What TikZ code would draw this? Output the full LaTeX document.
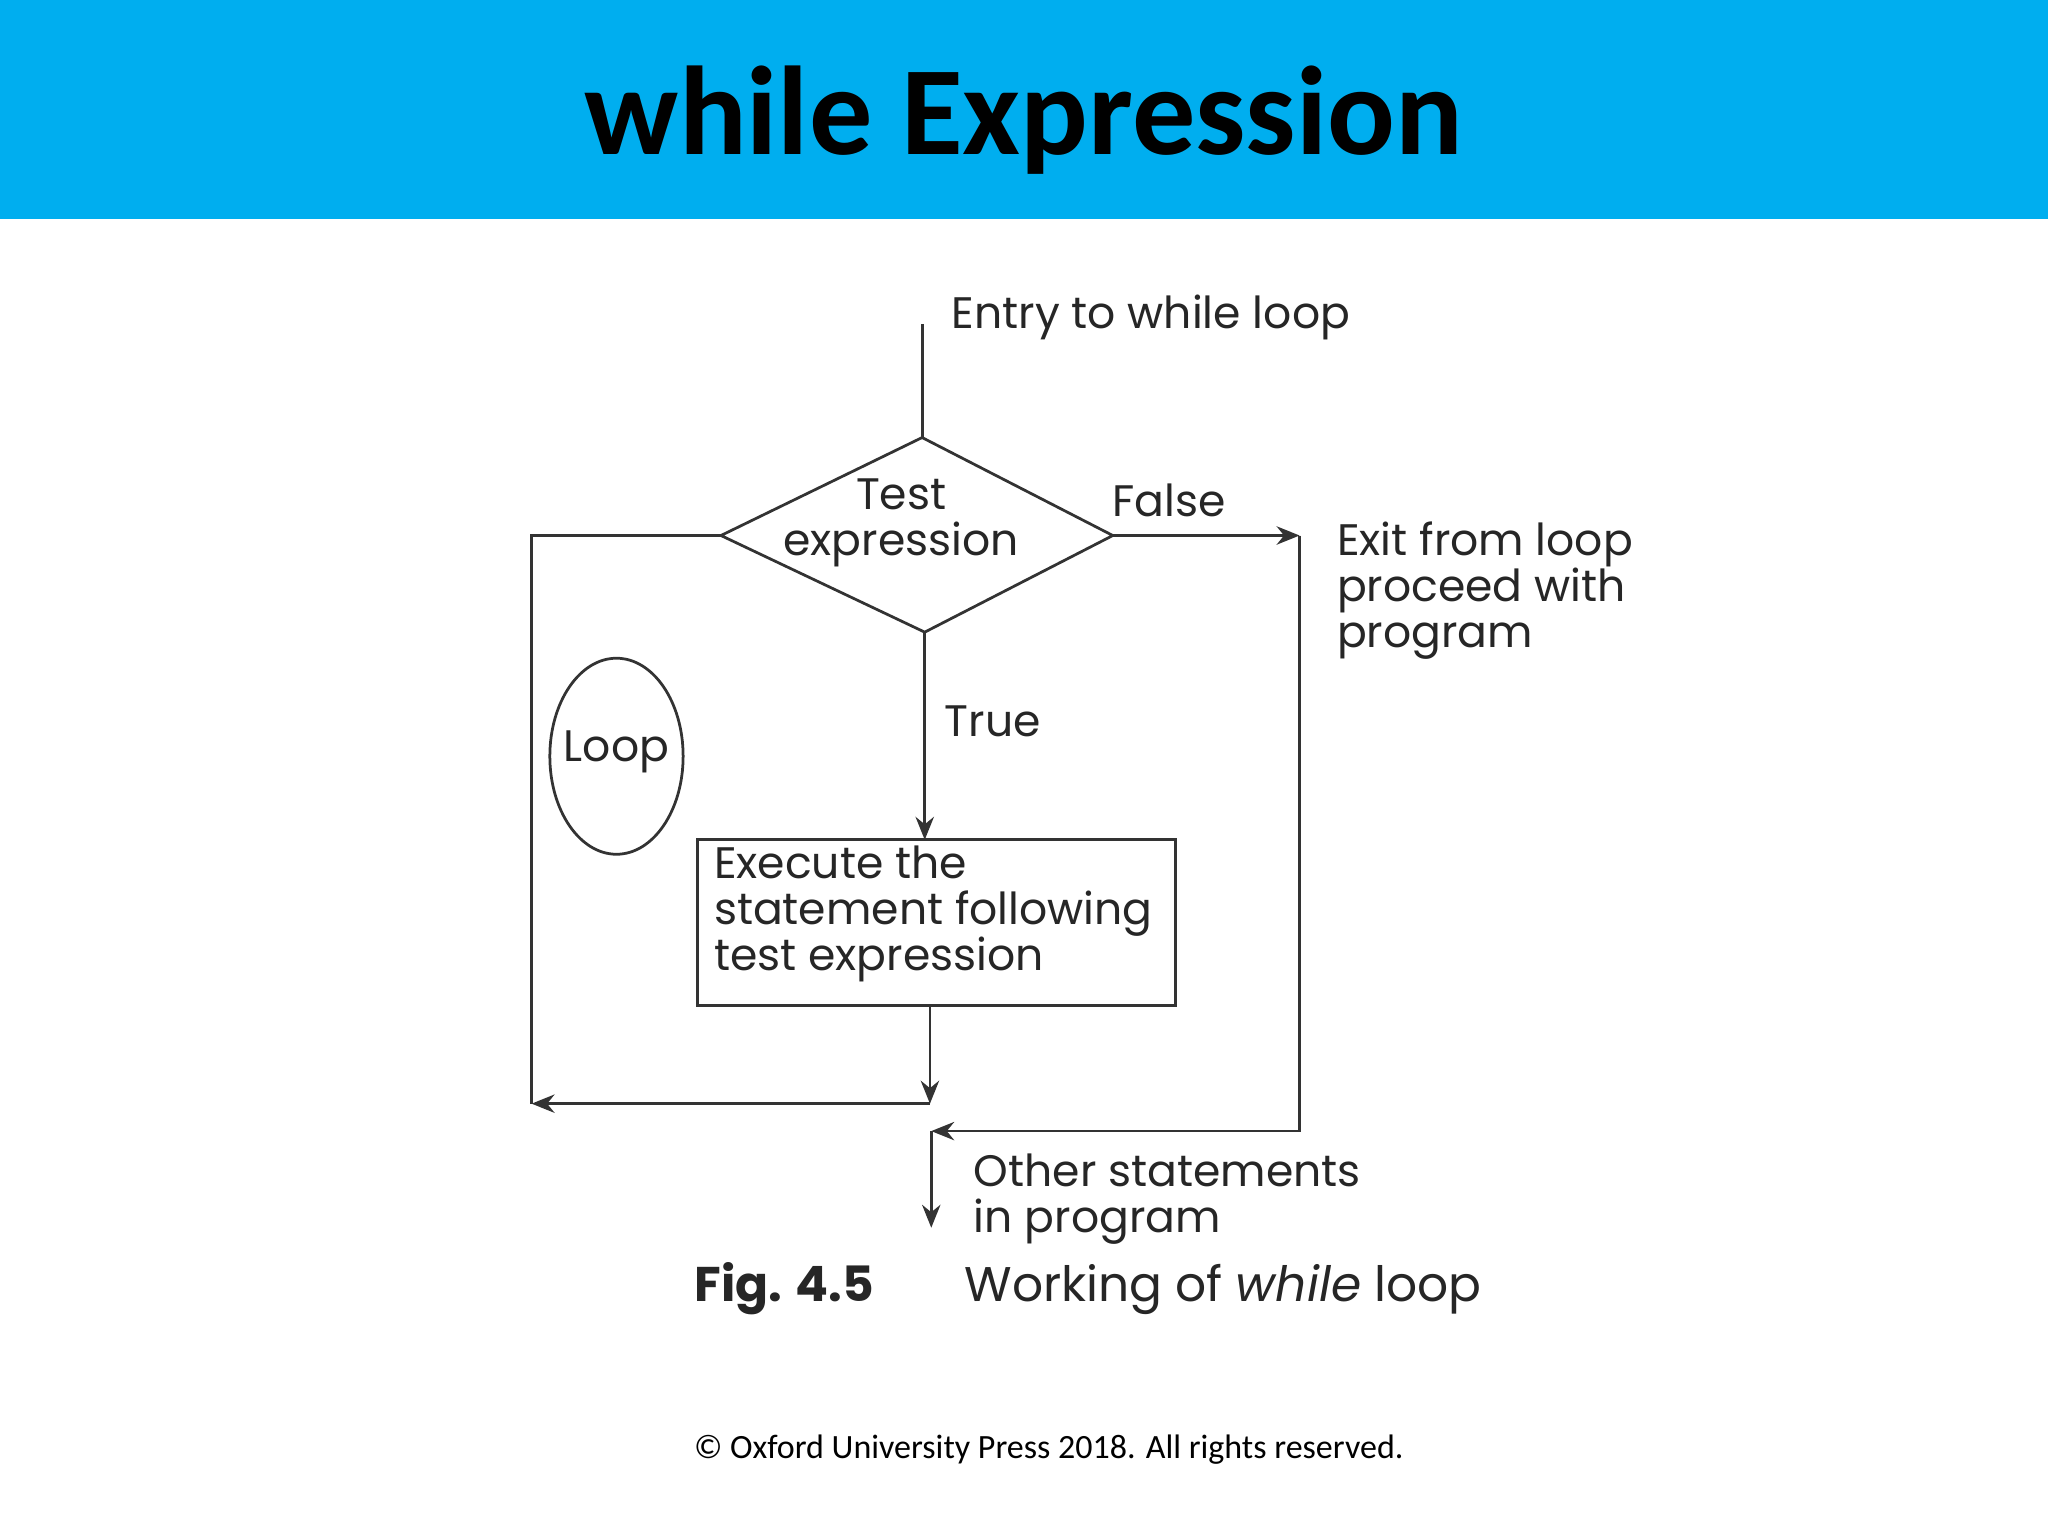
\documentclass[tikz,border=0pt]{standalone}
\usepackage{fontspec}
\setmainfont{Poppins}
\newfontfamily\carl{Carlito}
\usetikzlibrary{arrows.meta,shapes.geometric}
\definecolor{band}{RGB}{0,174,239}
\begin{document}
\begin{tikzpicture}[x=0.01cm,y=-0.01cm,
  ln/.style={line width=0.6pt,draw=black!80},
  arr/.style={ln,-{Stealth[length=5pt,width=4pt]}},
  lbl/.style={font=\fontsize{9.6}{10}\selectfont,text=black!85,inner sep=0pt},
  lbll/.style={lbl,align=left,anchor=west}]
\useasboundingbox (0,0) rectangle (1568,1176);
\fill[band] (0,0) rectangle (1568,168);
\node[font=\carl\bfseries\fontsize{27.5}{28}\selectfont] (title) at (784,92) {while Expression};
\coordinate (entry) at (706,248);
\coordinate (dt) at (706,335);
\coordinate (dl) at (552,410);
\coordinate (dr) at (852,410);
\coordinate (db) at (708,484);
\draw[ln] (dt)--(dr)--(db)--(dl)--cycle;
\draw[ln] (entry)--(dt);
\node[lbl,align=center] (test) at (690,400) {Test\\expression};
\node[lbll] (entrytxt) at (728,243) {Entry to while loop};
\coordinate (fr) at (995,410);
\draw[arr] (dr)--(fr);
\node[lbl] (false) at (895,383) {False};
\node[lbll] (exit) at (1023,452) {Exit from loop\\proceed with\\program};
\node[draw,ln,minimum width=3.66cm,minimum height=1.27cm,inner sep=0pt] (box) at (717,706.5) {};
\coordinate (boxtop) at (708,643);
\coordinate (boxbot) at (712,770);
\draw[arr] (db)--(boxtop);
\node[lbl] (true) at (760,552) {True};
\node[lbll] (boxtxt) at (546,700) {Execute the\\statement following\\test expression};
\coordinate (join) at (712,845);
\coordinate (ll) at (407,410);
\coordinate (lb) at (407,845);
\draw[arr] (boxbot)--(join);
\draw[ln] (dl)--(ll)--(lb);
\draw[arr] (join)--(lb);
\coordinate (rb) at (995,866);
\coordinate (mid) at (713,866);
\draw[arr] (fr)--(rb)--(mid);
\coordinate (out) at (713,940);
\draw[arr] (mid)--(out);
\node[draw,ln,ellipse,minimum width=1.02cm,minimum height=1.5cm,inner sep=0pt] (loop) at (472,579) {};
\node[lbl] (looptxt) at (472,576) {Loop};
\node[lbll] (other) at (745,918) {Other statements\\in program};
\node[lbl,anchor=west,font=\bfseries\fontsize{10.6}{12}\selectfont] (fig) at (531,987) {Fig. 4.5};
\node[lbl,anchor=west,font=\fontsize{10.6}{12}\selectfont] (cap) at (738,987) {Working of \textit{while} loop};
\node[font=\carl\fontsize{7.4}{9}\selectfont] (copy) at (803,1110) {© Oxford University Press 2018. All rights reserved.};
\end{tikzpicture}
\end{document}
